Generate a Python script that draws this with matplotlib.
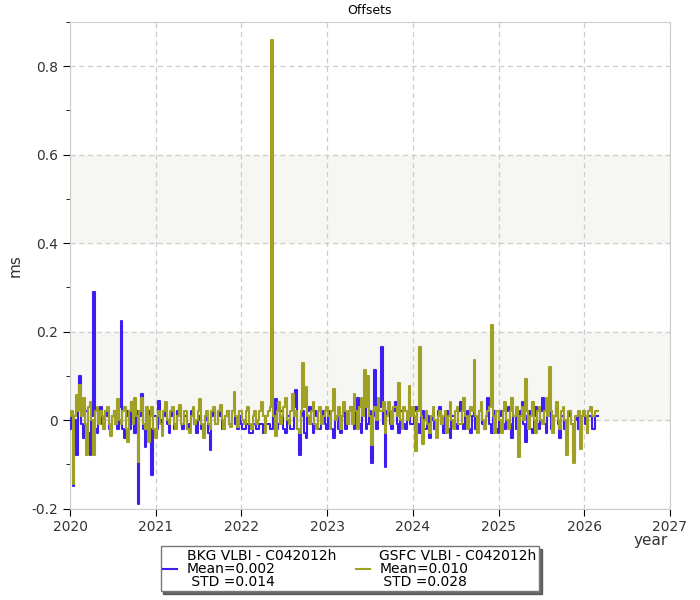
import numpy as np
import matplotlib
matplotlib.use("Agg")
import matplotlib.pyplot as plt
import matplotlib.ticker as mticker

# sampling epochs (decimal year), one value every 0.02 yr
epochs = np.linspace(2020.0, 2026.16, 309)

# BKG VLBI - C042012h offsets [ms]
bkg_2020 = [-0.02, 0.01, -0.15, 0.00, -0.08, 0.03, 0.10, -0.01, -0.04, 0.02,
            0.02, -0.03, -0.08, 0.01, 0.29, -0.02, -0.03, 0.02, 0.03, -0.01,
            -0.02, 0.02, 0.01, -0.02, -0.03, 0.01, 0.02, -0.01, -0.02, 0.03,
            0.225, -0.02, -0.04, 0.01, 0.02, -0.02, 0.04, 0.00, -0.03, 0.02,
            -0.19, 0.01, 0.06, -0.02, -0.06, 0.01, 0.02, -0.02, -0.125, 0.01]
bkg_2021 = [0.01, -0.02, 0.043, 0.00, -0.02, 0.02, 0.01, -0.01, -0.03, 0.01,
            0.02, -0.02, -0.01, 0.02, 0.03, -0.01, -0.02, 0.01, 0.01, -0.02,
            -0.01, 0.02, 0.02, -0.01, -0.03, 0.00, 0.01, -0.02, -0.02, 0.01,
            0.00, -0.03, -0.068, 0.01, 0.02, -0.01, -0.01, 0.02, 0.01, -0.02,
            -0.02, 0.01, 0.02, -0.01, -0.01, 0.02, 0.03, -0.01, -0.02, 0.01]
bkg_2022 = [-0.01, -0.02, -0.02, -0.01, -0.01, -0.03, -0.03, -0.01, -0.01, -0.02,
            -0.02, -0.01, -0.01, -0.03, -0.02, -0.01, -0.01, -0.02, -0.02, 0.01,
            0.048, -0.02, -0.01, 0.02, 0.02, -0.02, -0.03, 0.01, 0.01, -0.02,
            -0.02, 0.03, 0.068, -0.02, -0.08, 0.01, 0.02, -0.03, -0.04, 0.02,
            0.03, -0.01, -0.03, 0.02, 0.01, -0.02, -0.02, 0.01, 0.02, -0.01]
bkg_2023 = [-0.02, 0.01, 0.02, -0.02, -0.04, 0.01, 0.01, -0.02, -0.03, 0.01,
            0.02, -0.02, -0.01, 0.02, 0.03, -0.01, -0.02, 0.02, 0.05, -0.01,
            -0.03, 0.01, 0.03, -0.02, -0.01, 0.02, -0.098, 0.01, 0.114, -0.02,
            0.02, 0.03, 0.166, -0.01, -0.107, 0.02, 0.03, -0.01, -0.02, 0.02,
            0.04, -0.01, -0.03, 0.02, 0.02, -0.01, -0.02, 0.01, 0.03, -0.01]
bkg_2024 = [-0.01, 0.02, 0.03, -0.01, -0.03, 0.01, 0.02, -0.02, -0.02, 0.01,
            -0.04, 0.00, 0.01, -0.02, -0.02, 0.02, 0.03, -0.01, -0.03, 0.01,
            0.02, -0.02, -0.04, 0.01, 0.01, -0.01, -0.02, 0.02, 0.04, -0.01,
            -0.02, 0.01, 0.02, -0.02, -0.03, 0.01, 0.03, -0.02, -0.01, 0.02,
            0.02, -0.01, -0.02, 0.01, 0.05, -0.01, -0.03, 0.01, 0.02, -0.02]
bkg_2025 = [-0.03, 0.01, 0.02, -0.01, -0.02, 0.02, 0.03, -0.01, -0.04, 0.01,
            0.01, -0.02, -0.02, 0.02, 0.04, -0.01, -0.05, 0.01, 0.02, -0.02,
            -0.03, 0.01, 0.03, -0.01, -0.02, 0.02, 0.05, -0.01, -0.03, 0.01,
            0.02, -0.02, -0.02, 0.01, 0.03, -0.01, -0.04, 0.01, 0.01, -0.02,
            -0.02, 0.01, 0.02, -0.01, -0.077, 0.00, 0.01, -0.02, -0.03, 0.01]
bkg_2026 = [0.02, -0.01, -0.03, 0.01, 0.01, -0.02, -0.02, 0.01, 0.01]

# GSFC VLBI - C042012h offsets [ms]
gsfc_2020 = [0.01, 0.02, -0.145, 0.01, 0.056, 0.02, 0.08, 0.01, 0.05, -0.01,
             -0.08, 0.03, 0.04, 0.00, -0.08, 0.02, 0.03, -0.01, 0.02, 0.01,
             -0.02, 0.02, 0.03, -0.01, -0.035, 0.01, 0.02, -0.01, 0.048, 0.00,
             -0.01, 0.02, 0.03, -0.02, -0.05, 0.02, 0.04, -0.01, 0.05, 0.01,
             -0.095, 0.02, 0.05, -0.01, -0.02, 0.03, -0.05, 0.01, 0.03, -0.02]
gsfc_2021 = [-0.04, 0.01, 0.02, -0.01, -0.035, 0.02, 0.04, 0.00, -0.01, 0.02,
             0.03, -0.01, -0.02, 0.01, 0.035, -0.01, -0.01, 0.02, 0.02, -0.02,
             -0.03, 0.01, 0.03, -0.01, 0.00, 0.02, 0.047, -0.01, -0.04, 0.01,
             0.02, -0.01, -0.02, 0.02, 0.03, -0.01, -0.01, 0.02, 0.035, 0.00,
             -0.02, 0.01, 0.02, -0.01, -0.015, 0.02, 0.063, 0.01, -0.015, 0.02]
gsfc_2022 = [0.02, 0.00, -0.01, 0.02, 0.03, -0.01, -0.02, 0.01, 0.02, -0.01,
             0.00, 0.02, 0.04, 0.01, -0.03, 0.01, 0.02, 0.03, 0.86, 0.01,
             -0.037, 0.02, 0.04, -0.01, 0.01, 0.03, 0.05, 0.00, -0.01, 0.02,
             0.06, 0.01, 0.02, -0.02, -0.03, 0.02, 0.13, 0.03, 0.075, 0.01,
             -0.01, 0.02, 0.04, -0.01, -0.02, 0.02, 0.03, -0.01, 0.01, 0.02]
gsfc_2023 = [0.03, 0.01, -0.02, 0.02, 0.07, 0.00, 0.01, 0.03, -0.02, 0.01,
             0.04, 0.02, -0.01, 0.02, 0.03, -0.01, 0.06, 0.02, -0.02, 0.03,
             0.05, 0.01, 0.114, 0.03, 0.10, 0.01, -0.057, 0.02, 0.03, 0.00,
             0.05, 0.02, 0.02, 0.04, -0.03, 0.01, 0.04, 0.02, -0.01, 0.03,
             0.03, 0.01, 0.084, 0.00, -0.02, 0.03, 0.02, 0.00, 0.077, 0.01]
gsfc_2024 = [0.03, 0.01, -0.07, 0.02, 0.166, 0.01, -0.055, 0.00, 0.02, -0.01,
             -0.03, 0.01, 0.03, 0.00, -0.04, 0.01, 0.02, -0.01, 0.01, 0.02,
             -0.03, 0.01, 0.04, 0.00, -0.02, 0.02, 0.03, -0.01, -0.01, 0.02,
             0.05, 0.01, -0.02, 0.01, 0.03, 0.02, 0.136, 0.01, -0.03, 0.02,
             0.04, 0.00, -0.02, 0.01, 0.02, 0.03, 0.214, 0.01, -0.03, 0.02]
gsfc_2025 = [0.02, 0.00, -0.03, 0.02, 0.04, 0.00, -0.02, 0.02, 0.05, 0.01,
             0.01, 0.03, -0.084, 0.01, 0.03, 0.00, 0.093, 0.02, -0.02, 0.01,
             0.04, 0.00, -0.03, 0.02, 0.03, 0.00, -0.01, 0.02, 0.05, 0.01,
             0.12, 0.02, -0.03, 0.01, 0.04, 0.00, -0.02, 0.02, 0.03, 0.00,
             -0.08, 0.02, 0.02, -0.01, -0.097, 0.01, 0.01, 0.02, -0.065, 0.01]
gsfc_2026 = [0.02, 0.01, -0.03, 0.02, 0.03, 0.01, 0.01, 0.02, 0.02]

bkg = bkg_2020 + bkg_2021 + bkg_2022 + bkg_2023 + bkg_2024 + bkg_2025 + bkg_2026
gsfc = gsfc_2020 + gsfc_2021 + gsfc_2022 + gsfc_2023 + gsfc_2024 + gsfc_2025 + gsfc_2026

labels = ["BKG VLBI - C042012h\nMean=0.002\n STD =0.014",
          "GSFC VLBI - C042012h\nMean=0.010\n STD =0.028"]
colors = ["#3c1ef0", "#a0a024"]

BAND_COLOR = "#f6f6f2"
GRID_COLOR = "#cccccc"
TEXT_COLOR = "#333333"

fig = plt.figure(figsize=(7, 6), dpi=100)
ax = fig.add_axes([0.1, 0.1525, 0.857, 0.8108])

ax.axhspan(0.0, 0.2, color=BAND_COLOR, zorder=0)
ax.axhspan(0.4, 0.6, color=BAND_COLOR, zorder=0)

ax.plot(epochs, bkg, color=colors[0], lw=1.5, drawstyle="steps-mid", label=labels[0], zorder=3)
ax.plot(epochs, gsfc, color=colors[1], lw=1.5, drawstyle="steps-mid", label=labels[1], zorder=4)

ax.set_xlim(2020, 2027)
ax.set_ylim(-0.2, 0.9)
ax.set_xticks(range(2020, 2028))
ax.set_yticks([-0.2, 0, 0.2, 0.4, 0.6, 0.8])
ax.yaxis.set_minor_locator(mticker.MultipleLocator(0.1))
ax.yaxis.set_major_formatter(mticker.FuncFormatter(lambda v, p: "0" if abs(v) < 1e-9 else f"{v:.1f}"))

ax.grid(True, which="major", color=GRID_COLOR, ls=(0, (4, 3)), lw=0.9, zorder=1)
ax.set_axisbelow(True)
for s in ax.spines.values():
  s.set_color(GRID_COLOR)
ax.tick_params(axis="both", which="major", length=5, color="black", labelsize=10, labelcolor=TEXT_COLOR)
ax.tick_params(axis="y", which="minor", length=3, color="black")

ax.set_title("Offsets", fontsize=9, color="black", pad=6)
ax.set_ylabel("ms", fontsize=11, color=TEXT_COLOR, labelpad=6)
fig.text(0.954, 0.1, "year", fontsize=11, color=TEXT_COLOR, ha="right", va="center")

leg = fig.legend(loc="upper center", bbox_to_anchor=(0.5, 0.09), ncol=2,
                 shadow={"color": "#444444", "alpha": 0.8}, fancybox=False,
                 edgecolor="#777777", framealpha=1, fontsize=10, handlelength=1.0, columnspacing=1.4,
                 borderpad=0.2, handletextpad=0.7, borderaxespad=0)
for t in leg.get_texts():
  t.set_color("black")
  t.set_linespacing(0.9)
for h in leg.get_lines():
  h.set_linewidth(1.5)

plt.savefig("out.png", dpi=100)
